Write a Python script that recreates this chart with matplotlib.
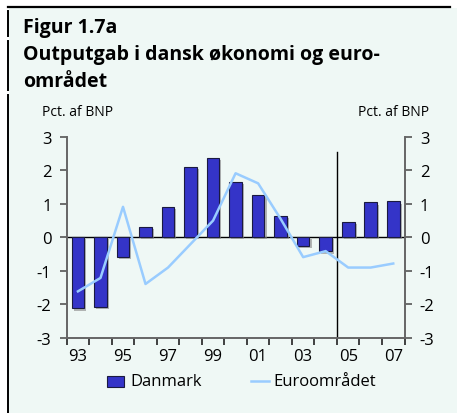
import matplotlib
matplotlib.use("Agg")
import matplotlib.pyplot as plt
import matplotlib.patheffects as pe
from matplotlib.lines import Line2D
from matplotlib.patches import Rectangle
import numpy as np

years = ["93", "94", "95", "96", "97", "98", "99", "00", "01", "02", "03", "04", "05", "06", "07"]
danmark = [-2.12, -2.07, -0.58, 0.32, 0.90, 2.11, 2.36, 1.64, 1.27, 0.63, -0.25, -0.42, 0.47, 1.04, 1.07]
euro = [-1.61, -1.21, 0.91, -1.39, -0.90, -0.20, 0.50, 1.91, 1.61, 0.55, -0.59, -0.41, -0.90, -0.90, -0.78]
yticks = [-3, -2, -1, 0, 1, 2, 3]
xlabels = ["93", "", "95", "", "97", "", "99", "", "01", "", "03", "", "05", "", "07"]

W, H = 457, 414
BG = "#eff8f5"
BAR = "#3434c8"
LINE = "#99ccff"
plt.rcParams['font.family'] = ['Open Sans', 'DejaVu Sans']

fig = plt.figure(figsize=(W / 100, H / 100), dpi=100)
fig.patch.set_facecolor("white")

# background panel
fig.patches.append(Rectangle((9 / W, 0), 1 - 9 / W, 1 - 9 / H, transform=fig.transFigure,
                             facecolor=BG, edgecolor="none", zorder=-5))
# top rule
fig.add_artist(Line2D([8 / W, 450 / W], [1 - 7.5 / H, 1 - 7.5 / H], color="black", lw=1.6,
                      transform=fig.transFigure))
# left rule (segments)
for y0, y1 in [(12, 37), (42, 91), (96, 414)]:
    fig.add_artist(Line2D([8 / W, 8 / W], [1 - y0 / H, 1 - y1 / H], color="black", lw=1.4,
                          transform=fig.transFigure))

# titles
fig.text(23 / W, 1 - 33 / H, "Figur 1.7a", fontsize=14, fontweight="bold", va="baseline")
fig.text(23 / W, 1 - 60 / H, "Outputgab i dansk økonomi og euro-", fontsize=14,
         fontweight="bold", va="baseline")
fig.text(23 / W, 1 - 87 / H, "området", fontsize=14, fontweight="bold", va="baseline")

ax = fig.add_axes([66.7 / W, 75 / H, (404.5 - 66.7) / W, (339 - 137.7) / H])
ax.set_facecolor("none")
ax.set_zorder(2)
x = np.arange(len(years))
bars = ax.bar(x, danmark, width=0.56, color=BAR, edgecolor="#1a1a40", linewidth=0.8, zorder=3)
for b in bars:
    b.set_path_effects([pe.SimplePatchShadow(offset=(1.5, -1.5), shadow_rgbFace="#888888", alpha=0.6),
                        pe.Normal()])
ax.plot(x, euro, color=LINE, lw=1.8, zorder=4)

ax.set_xlim(-0.5, len(years) - 0.5)
ax.set_ylim(-3, 3)
ax.axhline(0, color="black", lw=1.0, zorder=2)
ax.plot([11.5, 11.5], [-3, 2.55], color="black", lw=1.0, zorder=2)

ax.spines["top"].set_visible(False)
for s in ["left", "right", "bottom"]:
    ax.spines[s].set_color("#666666")
    ax.spines[s].set_linewidth(1.4)

ax.set_yticks(yticks)
ax.set_yticklabels([str(v) for v in yticks])
ax.tick_params(axis="y", which="both", left=True, right=True, labelleft=True, labelright=True,
               direction="out", length=5, width=1.2, color="#555555", labelsize=12, pad=6)
ax.set_xticks(np.arange(-0.5, len(years), 1.0), minor=False)
ax.set_xticklabels([])
ax.set_xticks(x, minor=True)
ax.set_xticklabels(xlabels, minor=True)
ax.tick_params(axis="x", which="major", direction="out", length=5, width=1.2, color="#222222")
ax.tick_params(axis="x", which="minor", length=0, labelsize=12, pad=7)

fig.text(42 / W, 1 - 113 / H, "Pct. af BNP", fontsize=10, va="center", ha="left")
fig.text(429 / W, 1 - 113 / H, "Pct. af BNP", fontsize=10, va="center", ha="right")

# legend
fig.patches.append(Rectangle((107 / W, 1 - 388 / H), 17 / W, 11 / H, transform=fig.transFigure,
                             facecolor=BAR, edgecolor="#1a1a40", lw=0.8))
fig.text(130 / W, 1 - 382 / H, "Danmark", fontsize=12, va="center", ha="left")
fig.add_artist(Line2D([251 / W, 269 / W], [1 - 382 / H, 1 - 382 / H], color=LINE, lw=1.8,
                      transform=fig.transFigure))
fig.text(273 / W, 1 - 382 / H, "Euroområdet", fontsize=12, va="center", ha="left")

fig.savefig("out.png", dpi=100, facecolor=fig.get_facecolor())
